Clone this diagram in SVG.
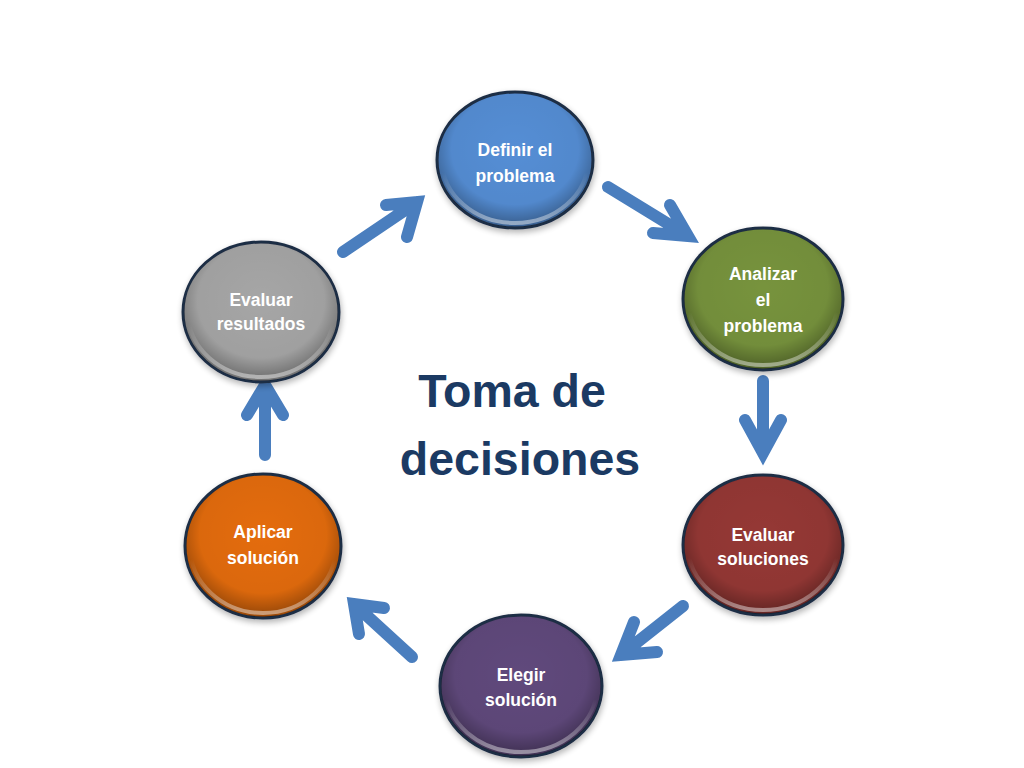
<svg xmlns="http://www.w3.org/2000/svg" width="1024" height="768" viewBox="0 0 1024 768">
<defs>
<radialGradient id="shade" cx="50%" cy="42%" r="55%">
<stop offset="0" stop-color="#000" stop-opacity="0"/>
<stop offset="0.75" stop-color="#000" stop-opacity="0.04"/>
<stop offset="1" stop-color="#000" stop-opacity="0.3"/>
</radialGradient>
<linearGradient id="rim" x1="0" y1="0" x2="0" y2="1">
<stop offset="0" stop-color="#fff" stop-opacity="0"/>
<stop offset="0.6" stop-color="#fff" stop-opacity="0"/>
<stop offset="1" stop-color="#fff" stop-opacity="0.45"/>
</linearGradient>
<filter id="sh" x="-20%" y="-20%" width="140%" height="140%">
<feGaussianBlur in="SourceAlpha" stdDeviation="3"/>
<feOffset dx="1" dy="3" result="b"/>
<feComponentTransfer><feFuncA type="linear" slope="0.3"/></feComponentTransfer>
<feMerge><feMergeNode/><feMergeNode in="SourceGraphic"/></feMerge>
</filter>
</defs>
<style>
.body{stroke:#1f2d45;stroke-width:3;filter:url(#sh)}
.shade{fill:url(#shade);stroke:none}
.rim{fill:none;stroke:url(#rim);stroke-width:4}
.lbl{font-family:"Liberation Sans",Arial,sans-serif;font-weight:bold;font-size:17.5px;fill:#fff;text-anchor:middle}
.title{font-family:"Liberation Sans",Arial,sans-serif;font-weight:bold;font-size:46.5px;fill:#1b3a63;text-anchor:middle}
.arr{fill:none;stroke:#4a7ebe;stroke-width:12;stroke-linecap:round;stroke-linejoin:miter}
</style>
<rect width="1024" height="768" fill="#fff"/>
<g id="connectors">
<path class="arr" d="M608,187 L688,236 M670,205 L688,236 L653,233"/>
<path class="arr" d="M763,381 L763,453 M745,420 L763,453 L781,420"/>
<path class="arr" d="M683,606 L621,655 M634,622 L621,655 L657,652"/>
<path class="arr" d="M412,657 L354,604 M384,608 L354,604 L359,634"/>
<path class="arr" d="M265,455 L265,385 M247,415 L265,385 L283,415"/>
<path class="arr" d="M343,252 L417,202 M386,205 L417,202 L407,237"/>
</g>
<g id="n1">
<ellipse class="body" cx="515" cy="160" rx="78" ry="68" fill="#558ed5"/>
<ellipse class="shade" cx="515" cy="160" rx="77" ry="67"/>
<ellipse class="rim" cx="515" cy="160" rx="73" ry="63"/>
<text class="lbl" x="515" y="156">Definir el</text>
<text class="lbl" x="515" y="182">problema</text>
</g>
<g id="n2">
<ellipse class="body" cx="763" cy="299" rx="80" ry="71" fill="#77933c"/>
<ellipse class="shade" cx="763" cy="299" rx="79" ry="70"/>
<ellipse class="rim" cx="763" cy="299" rx="75" ry="66"/>
<text class="lbl" x="763" y="280">Analizar</text>
<text class="lbl" x="763" y="306">el</text>
<text class="lbl" x="763" y="332">problema</text>
</g>
<g id="n3">
<ellipse class="body" cx="763" cy="545" rx="80" ry="70" fill="#953735"/>
<ellipse class="shade" cx="763" cy="545" rx="79" ry="69"/>
<ellipse class="rim" cx="763" cy="545" rx="75" ry="65"/>
<text class="lbl" x="763" y="541">Evaluar</text>
<text class="lbl" x="763" y="565">soluciones</text>
</g>
<g id="n4">
<ellipse class="body" cx="521" cy="686" rx="81" ry="71" fill="#604a7b"/>
<ellipse class="shade" cx="521" cy="686" rx="80" ry="70"/>
<ellipse class="rim" cx="521" cy="686" rx="76" ry="66"/>
<text class="lbl" x="521" y="681">Elegir</text>
<text class="lbl" x="521" y="706">solución</text>
</g>
<g id="n5">
<ellipse class="body" cx="263" cy="546" rx="78" ry="72" fill="#e46c0a"/>
<ellipse class="shade" cx="263" cy="546" rx="77" ry="71"/>
<ellipse class="rim" cx="263" cy="546" rx="73" ry="67"/>
<text class="lbl" x="263" y="538">Aplicar</text>
<text class="lbl" x="263" y="564">solución</text>
</g>
<g id="n6">
<ellipse class="body" cx="261" cy="312" rx="78" ry="70" fill="#a6a6a6"/>
<ellipse class="shade" cx="261" cy="312" rx="77" ry="69"/>
<ellipse class="rim" cx="261" cy="312" rx="73" ry="65"/>
<text class="lbl" x="261" y="306">Evaluar</text>
<text class="lbl" x="261" y="330">resultados</text>
</g>
<g id="title">
<text class="title" x="512" y="407">Toma de</text>
<text class="title" x="520" y="475">decisiones</text>
</g>
</svg>
